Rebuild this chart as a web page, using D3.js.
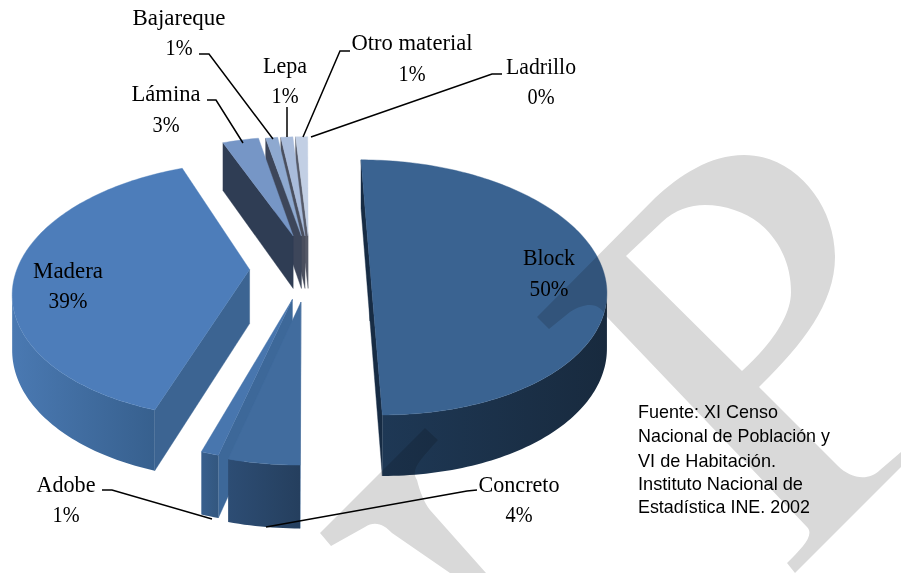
<!DOCTYPE html>
<html><head><meta charset="utf-8">
<script src="https://cdn.jsdelivr.net/npm/d3@7"></script>
<style>html,body{margin:0;padding:0;background:#fff}svg{display:block}</style>
</head><body><svg id="c" width="901" height="573"></svg>
<script>
// ---- data ----
const categories = ["Block","Concreto","Adobe","Madera","Lámina","Bajareque","Lepa","Otro material","Ladrillo"];
const percents   = [50,4,1,39,3,1,1,1,0];
const sourceLines = ["Fuente: XI Censo","Nacional de Población y","VI de Habitación.","Instituto Nacional de","Estadística INE. 2002"];

// ---- exploded offset of each slice, in pie radii (x, depth) ----
const explodeX = [0.28,-0.017,-0.052,-0.238,-0.053,-0.016,0,0.014,0.03];
const explodeZ = [0,0.27,0.25,0.02,-0.26,-0.26,-0.26,-0.26,-0.26];

// ---- styles ----
const topFill    = ["#3a6391","#416c9e","#4876ae","#4d7dba","#7696c6","#8ea9d0","#a9bcdb","#c2cfe4","#d5deed"];
const radialFill = ["#172c44","#3a6291","#3d6899","#3c6492","#2f3d54","#3d465a","#4a4f5e","#565a68","#5a5e68"];
const outerFrom  = ["#1e3855","#2d4d74","#385f8d","#4a79b2","#5d7ca8","#5d7ca8","#7d8fb0","#8d9dba","#8d9dba"];
const outerTo    = ["#182a3e","#253f5e","#33577f","#37608e","#4d6a94","#4d6a94","#6d7fa0","#7d8daa","#7d8daa"];
const paintOrder = [8,7,6,5,4,3,0,2,1];

// ---- 3D pie projection ----
const RX=232, RY=124.3, K=0.16, VX=305, VY=267, H=54;
const sc = z => 1/(1-K*z);
const project = (x,z,down) => {
  const s=sc(z);
  return [VX+x*RX*s, VY+z*RY*s+(down?H*Math.pow(s,0.7):0)];
};
const svg=d3.select("#c");
const defs=svg.append("defs");
const line=d3.line();
const pieGen=d3.pie().sort(null).value(d=>d)(percents);

const gSlices=svg.append("g");
paintOrder.forEach(i=>{
  const a=pieGen[i];
  if(a.endAngle-a.startAngle<1e-6) return;
  const cx=explodeX[i], cz=explodeZ[i];
  const rim=(th,down)=>project(cx+Math.sin(th),cz-Math.cos(th),down);
  const n=Math.max(4,Math.ceil((a.endAngle-a.startAngle)/0.02));
  const ths=d3.range(n+1).map(j=>a.startAngle+(a.endAngle-a.startAngle)*j/n);
  const topRim=ths.map(t=>rim(t,false));
  const P=project(cx,cz,false), Pb=project(cx,cz,true);
  const M=topRim[Math.floor(n/2)];
  const g=gSlices.append("g").attr("data-cat",categories[i]);
  [a.startAngle,a.endAngle].forEach(t=>{
    const Q=rim(t,false), Qb=rim(t,true);
    const dx=Q[0]-P[0], dy=Q[1]-P[1];
    const side=dx*(M[1]-P[1])-dy*(M[0]-P[0]);
    if(dx*side<0 || Math.abs(dx)<1e-9){
      g.append("path").attr("d",line([P,Q,Qb,Pb])+"Z").attr("fill",radialFill[i]).attr("stroke",radialFill[i]).attr("stroke-width",.4);
    }
  });
  const front=ths.filter((t,j)=>(j<n && topRim[j+1][0]<topRim[j][0])||(j>0 && topRim[j][0]<topRim[j-1][0]));
  if(front.length>1){
    const gid="og"+i;
    const gr=defs.append("linearGradient").attr("id",gid);
    gr.append("stop").attr("offset","0%").attr("stop-color",outerFrom[i]);
    gr.append("stop").attr("offset","100%").attr("stop-color",outerTo[i]);
    const poly=front.map(t=>rim(t,false)).concat(front.slice().reverse().map(t=>rim(t,true)));
    g.append("path").attr("d",line(poly)+"Z").attr("fill","url(#"+gid+")");
  }
  g.append("path").attr("d",line([P].concat(topRim))+"Z").attr("fill",topFill[i]).attr("stroke",topFill[i]).attr("stroke-width",.4);
});

// ---- watermark (page background lettering) ----
const wm=svg.append("g").style("mix-blend-mode","multiply").attr("fill","#d9d9d9");
wm.append("path").attr("fill-rule","evenodd").attr("d",
 "M537,317 L655,198 C680,175 710,155 744,155 C795,155 835,205 835,257 C835,305 800,347 759,387 L838,466 C850,478 868,482 880,470 L901,452 L901,467 L795,573 L787,563 C802,548 815,535 807,527 L607,317 C600,305 590,300 570,312 L549,329 Z"+
 " M626,256 L662,222 C675,210 690,205 705,205 C725,205 745,212 759,223 C780,240 791,265 791,292 C791,320 765,350 742,371 Z");
wm.append("path").attr("d",
 "M425,428 L438,440 C420,460 410,470 417,480 C420,492 424,502 430,510 L486,573 L450,573 L392,533 C385,525 375,520 365,527 L331,546 L320,533 Z");

// ---- labels ----
const serif="'Liberation Serif','Times New Roman',serif";
const labelAt={ // centre x, baseline of the name, baseline of the percent, width of name
 "Block":[549,265,296,52],"Concreto":[519,492,522,81],"Adobe":[66,492,522,59],"Madera":[68,278,308,70],
 "Lámina":[166,101,132,69],"Bajareque":[179,25,55,93],"Lepa":[285,73,103,44],"Otro material":[412,50,81,121],"Ladrillo":[541,74,104,70]};
const gL=svg.append("g").attr("font-family",serif).attr("font-size",24).attr("fill","#000").attr("text-anchor","middle");
categories.forEach((c,i)=>{
  const [x,y1,y2,w]=labelAt[c];
  const pct=percents[i]+"%";
  gL.append("text").attr("x",x).attr("y",y1).attr("textLength",w).attr("lengthAdjust","spacingAndGlyphs").text(c);
  gL.append("text").attr("x",x).attr("y",y2).attr("textLength",pct.length>2?39:27).attr("lengthAdjust","spacingAndGlyphs").text(pct);
});
const leaders=[
 [[199,54],[209,54],[273,139]],
 [[207,100],[216,100],[243,143]],
 [[287,107],[287,137]],
 [[350,51],[340,51],[303,137]],
 [[502,74],[492,74],[311,137]],
 [[102,490],[112,490],[212,519]],
 [[477,490],[467,491],[266,527]]];
svg.append("g").selectAll("path").data(leaders).join("path").attr("d",d=>line(d))
  .attr("fill","none").attr("stroke","#000").attr("stroke-width",1.5);

const srcY=[418,442,467,490,513], srcW=[140,192,138,165,172];
svg.append("g").attr("font-family","'Liberation Sans',Arial,sans-serif").attr("font-size",19).attr("fill","#000")
 .selectAll("text").data(sourceLines).join("text")
 .attr("x",638).attr("y",(d,i)=>srcY[i]).attr("textLength",(d,i)=>srcW[i]).attr("lengthAdjust","spacingAndGlyphs").text(d=>d);
</script></body></html>
